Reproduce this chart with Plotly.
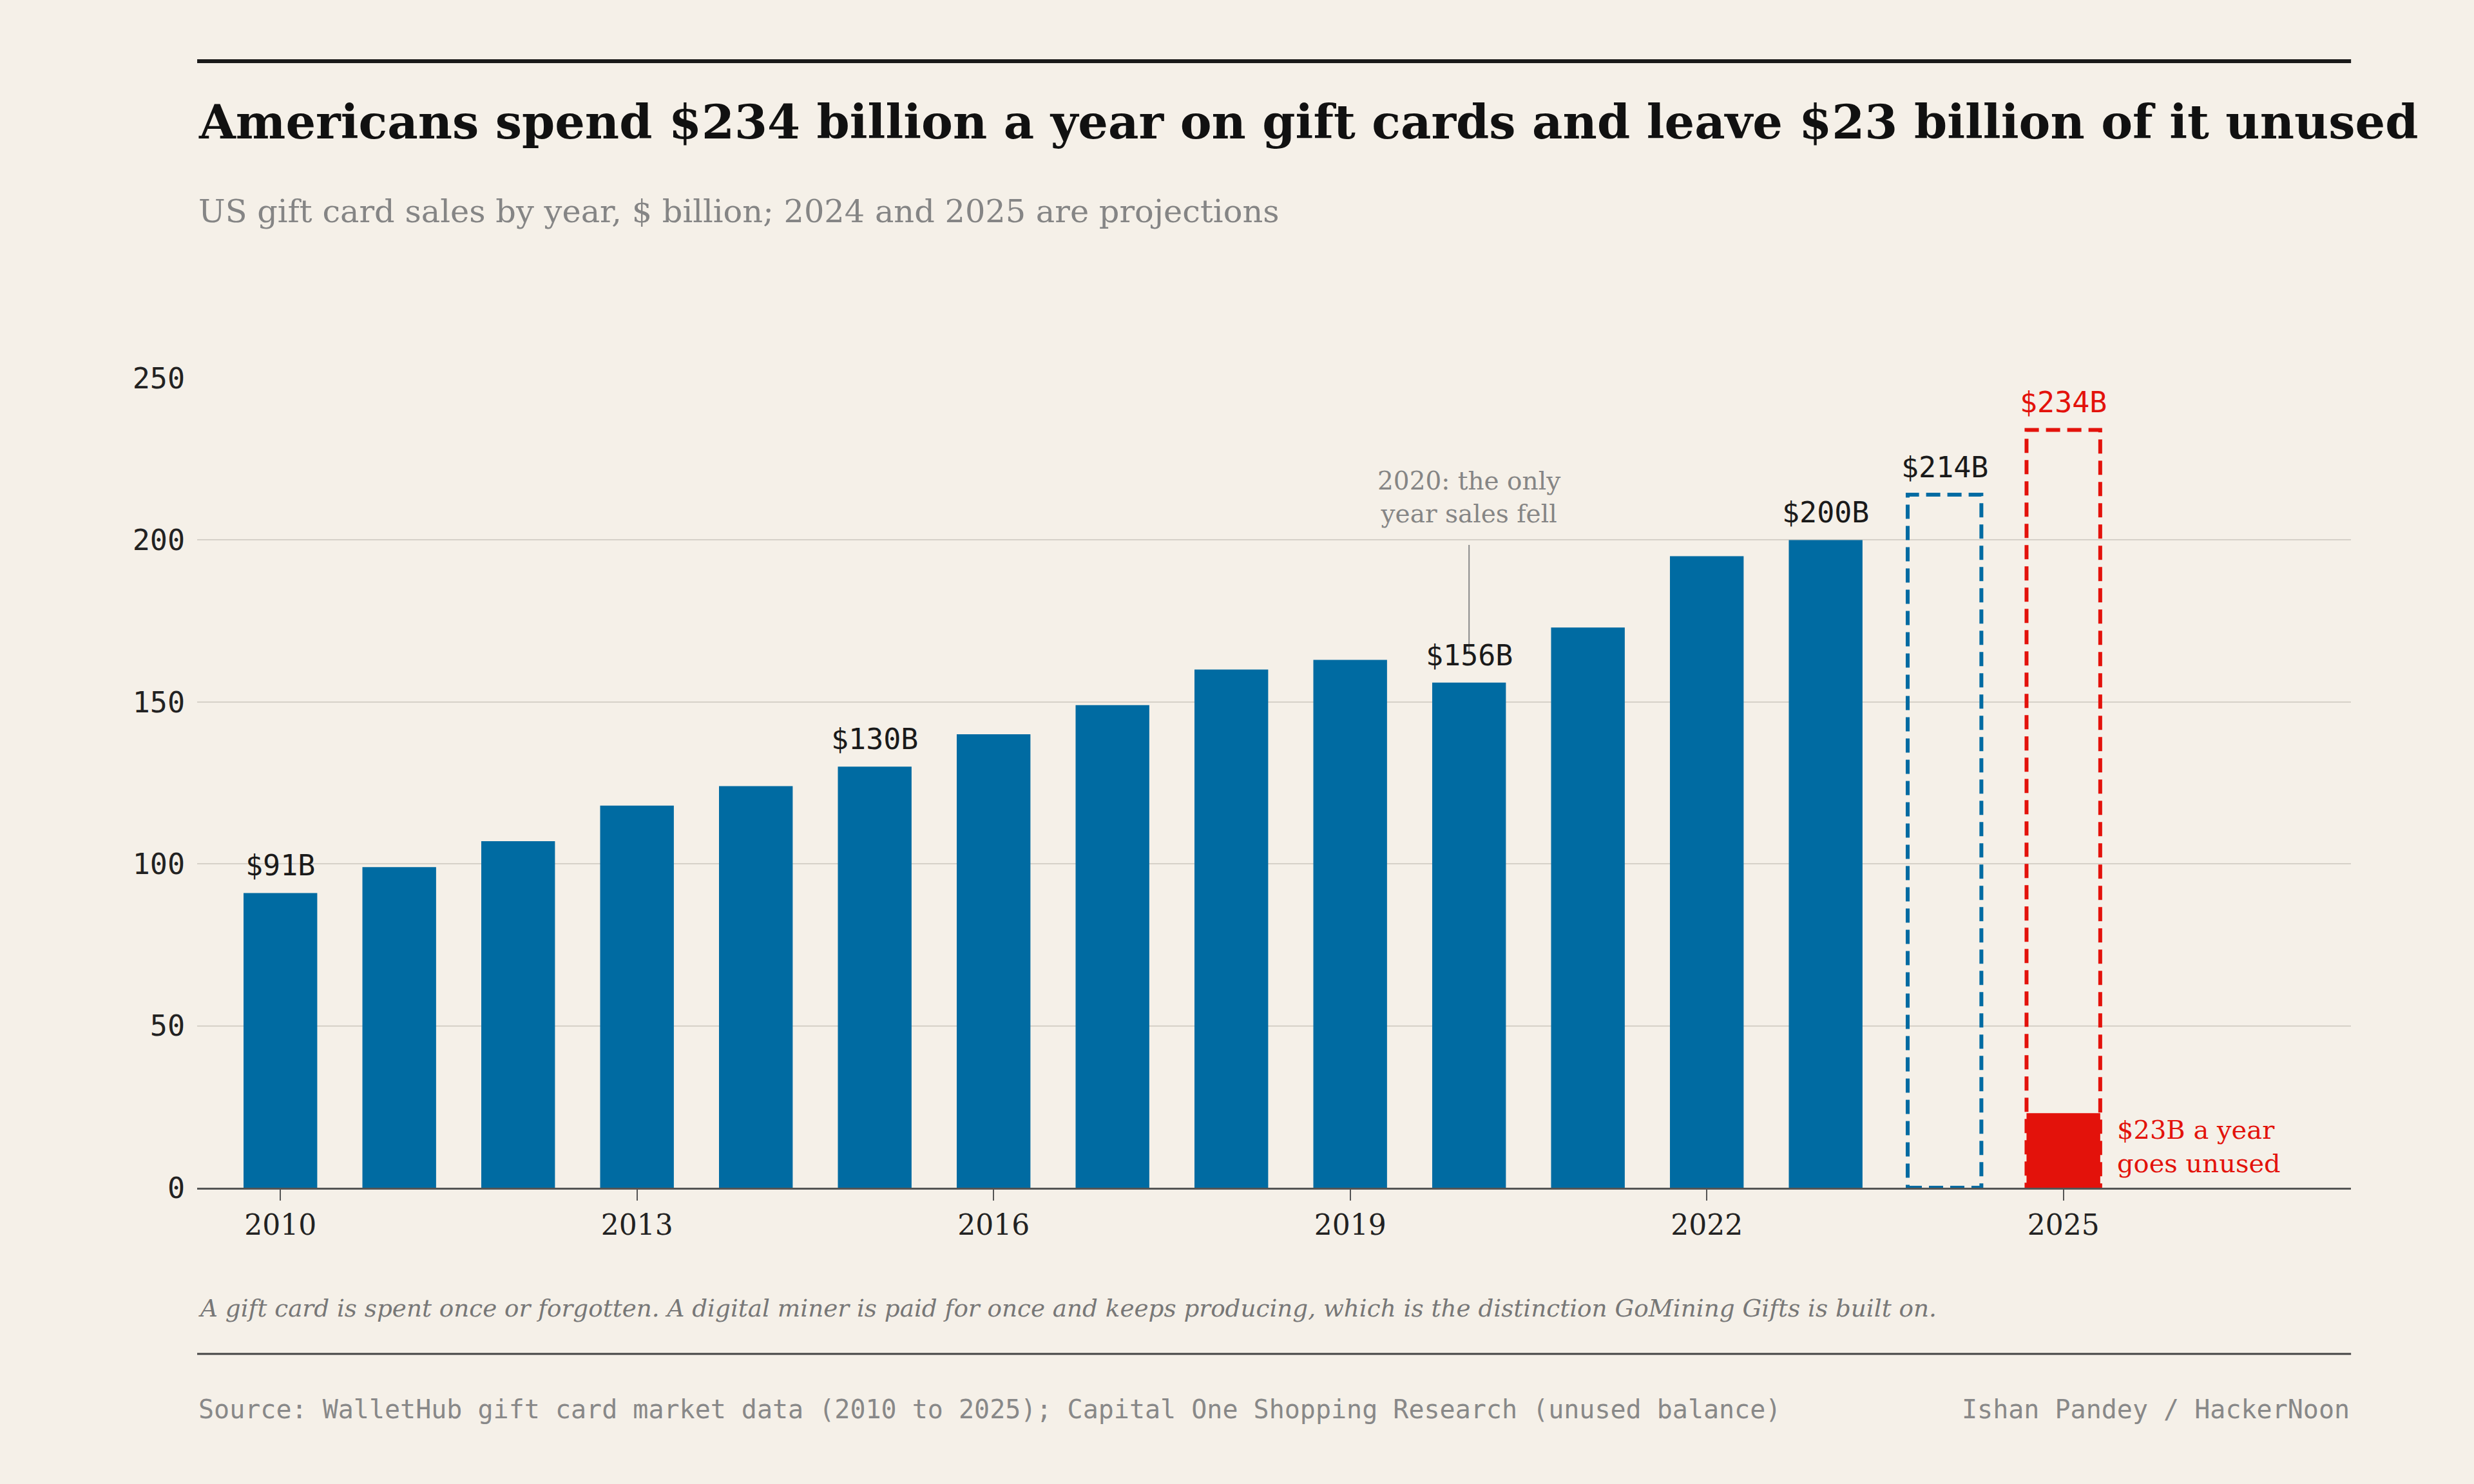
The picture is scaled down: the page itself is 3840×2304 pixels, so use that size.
import plotly.graph_objects as go

# Datos: ventas de tarjetas de regalo en EE.UU. ($ mil millones)
years = [2010, 2011, 2012, 2013, 2014, 2015, 2016, 2017, 2018, 2019, 2020, 2021, 2022, 2023]
sales = [91, 99, 107, 118, 124, 130, 140, 149, 160, 163, 156, 173, 195, 200]

proj_years = [2024, 2025]
proj_sales = [214, 234]

unused_year = 2025
unused_value = 23

label_years = [2010, 2015, 2020, 2023, 2024, 2025]
x_ticks = [2010, 2013, 2016, 2019, 2022, 2025]
y_ticks = [0, 50, 100, 150, 200, 250]

BG = '#f5f0e8'
BLUE = '#006ba2'
RED = '#e3120b'
SERIF = 'DejaVu Serif'
MONO = 'DejaVu Sans Mono'
bar_w = 0.62

all_vals = dict(zip(years + proj_years, sales + proj_sales))

fig = go.Figure()

# barras reales
fig.add_trace(go.Bar(x=years, y=sales, width=bar_w, marker=dict(color=BLUE, line=dict(width=0)),
                     hoverinfo='x+y', showlegend=False))

# monto no usado
fig.add_trace(go.Bar(x=[unused_year], y=[unused_value], width=bar_w,
                     marker=dict(color=RED, line=dict(width=0)), showlegend=False))

# proyecciones: rectangulos punteados
for yr, val, col in zip(proj_years, proj_sales, [BLUE, RED]):
    fig.add_shape(type='rect', xref='x', yref='y', x0=yr - bar_w / 2, x1=yr + bar_w / 2, y0=0, y1=val,
                  line=dict(color=col, width=6, dash='22px,11px'), fillcolor='rgba(0,0,0,0)', layer='above')

# etiquetas de valores
for yr in label_years:
    col = RED if yr == 2025 else '#1a1a1a'
    fig.add_annotation(x=yr, y=all_vals[yr], text=f'${all_vals[yr]}B', showarrow=False,
                       yanchor='bottom', yshift=14, font=dict(family=MONO, size=45, color=col))

# nota 2020
fig.add_shape(type='line', xref='x', yref='y', x0=2020, x1=2020, y0=165, y1=198.5,
              line=dict(color='#8a8a8a', width=2))
fig.add_annotation(x=2020, y=198.5, text='2020: the only<br>year sales fell', showarrow=False,
                   yanchor='bottom', yshift=24, align='center',
                   font=dict(family=SERIF, size=39, color='#858585'))

# nota del monto no usado
fig.add_annotation(x=unused_year + bar_w / 2, y=unused_value / 2, text='$23B a year<br>goes unused',
                   showarrow=False, xanchor='left', yanchor='middle', xshift=24, yshift=6, align='left',
                   font=dict(family=SERIF, size=40, color=RED))

# titulo, subtitulo, pie
L, R = 0.0797, 0.9503
fig.add_shape(type='line', xref='paper', yref='paper', x0=L, x1=R, y0=0.9588, y1=0.9588,
              line=dict(color='#1a1a1a', width=6))
fig.add_annotation(xref='paper', yref='paper', x=L, y=0.918, xanchor='left', yanchor='middle',
                   text='<b>Americans spend $234 billion a year on gift cards and leave $23 billion of it unused</b>',
                   showarrow=False, font=dict(family=SERIF, size=73.3, color='#111111'))
fig.add_annotation(xref='paper', yref='paper', x=L, y=0.8576, xanchor='left', yanchor='middle',
                   text='US gift card sales by year, $ billion; 2024 and 2025 are projections',
                   showarrow=False, font=dict(family=SERIF, size=49.4, color='#858585'))
fig.add_annotation(xref='paper', yref='paper', x=L, y=0.1185, xanchor='left', yanchor='middle',
                   text='A gift card is spent once or forgotten. A digital miner is paid for once and keeps producing, '
                        'which is the distinction GoMining Gifts is built on.',
                   showarrow=False, font=dict(family=SERIF, size=37.3, color='#777777', style='italic'))
fig.add_shape(type='line', xref='paper', yref='paper', x0=L, x1=R, y0=0.0877, y1=0.0877,
              line=dict(color='#444444', width=3))
fig.add_annotation(xref='paper', yref='paper', x=L, y=0.0503, xanchor='left', yanchor='middle',
                   text='Source: WalletHub gift card market data (2010 to 2025); Capital One Shopping Research (unused balance)',
                   showarrow=False, font=dict(family=MONO, size=40, color='#888888'))
fig.add_annotation(xref='paper', yref='paper', x=R, y=0.0503, xanchor='right', yanchor='middle',
                   text='Ishan Pandey / HackerNoon', showarrow=False,
                   font=dict(family=MONO, size=40, color='#888888'))

fig.update_layout(
    width=3840, height=2304,
    paper_bgcolor=BG, plot_bgcolor=BG,
    margin=dict(l=0, r=0, t=0, b=0),
    barmode='overlay',
    showlegend=False,
    xaxis=dict(domain=[L, R], range=[2009.3, 2027.42], tickvals=x_ticks, ticks='outside', ticklen=17,
               tickwidth=2, tickcolor='#555555', showline=True, linecolor='#555555', linewidth=3,
               showgrid=False, zeroline=False, automargin=False,
               tickfont=dict(family=SERIF, size=44, color='#222222')),
    yaxis=dict(domain=[0.1997, 0.7452], range=[0, 250], tickvals=y_ticks, showgrid=True,
               gridcolor='#d6d1c8', gridwidth=2, zeroline=False, showline=False, automargin=False,
               ticklabelstandoff=18,
               tickfont=dict(family=MONO, size=45, color='#222222')),
)

fig.write_html('out.html', config={'displayModeBar': False},
               post_script="document.body.style.margin='0';document.body.style.background='" + BG + "';")
